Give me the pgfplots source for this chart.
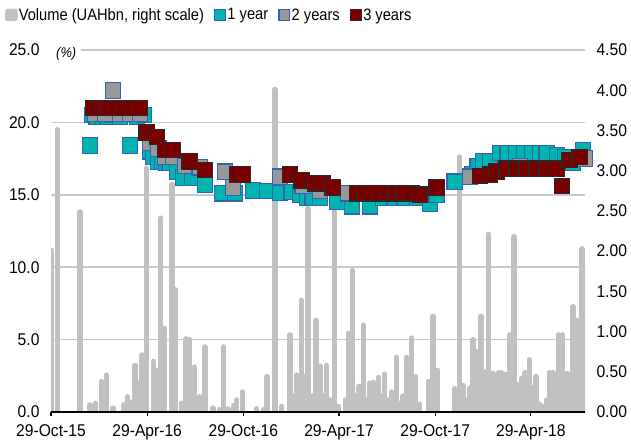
\documentclass[border=0pt]{standalone}
\usepackage{fontspec}
\setmainfont{Liberation Sans}[FakeStretch=0.92]
\newfontfamily\legfont{Liberation Sans}[FakeStretch=0.89]
\usepackage{pgfplots}
\usepackage{pgfplotstable}
\pgfplotsset{compat=1.18}
\definecolor{gridgray}{RGB}{200,202,202}
\definecolor{volgray}{RGB}{192,192,192}
\definecolor{tealf}{RGB}{0,180,176}
\definecolor{blueb}{RGB}{46,102,178}
\definecolor{grayf}{RGB}{152,152,152}
\definecolor{redf}{RGB}{122,0,0}
\definecolor{redb}{RGB}{48,38,38}

\pgfplotstableread{
day vol
1 2.01
12 3.51
55 2.49
74 0.09
84 0.11
96 0.38
105 0.46
118 0.05
139 0.09
146 0.19
152 0.12
160 0.58
164 0.36
173 0.71
182 3.03
195 0.63
201 0.52
209 2.41
216 1.04
230 2.83
237 1.52
249 0.11
257 0.91
264 0.90
273 0.56
283 0.19
293 0.81
308 0.05
320 0.03
328 0.81
337 0.04
347 0.08
353 0.15
364 0.25
391 0.04
404 0.03
411 0.44
426 4.01
439 0.07
455 0.96
462 0.20
467 0.46
476 1.39
483 0.44
489 2.53
497 0.20
504 1.14
512 0.57
518 0.20
524 0.58
531 0.15
539 2.55
547 0.07
560 0.15
566 0.98
573 1.76
580 0.20
586 0.32
594 1.08
600 0.15
607 0.36
613 0.37
618 0.15
623 0.43
629 0.20
635 0.47
642 0.15
648 0.25
657 0.68
664 0.11
670 0.20
676 0.68
681 0.30
686 0.92
694 0.44
701 0.10
718 0.38
727 1.19
735 0.52
768 0.29
777 3.17
784 0.33
790 0.15
797 0.30
803 0.90
809 0.75
813 0.35
818 1.19
824 0.50
832 2.21
836 0.30
841 0.48
846 0.30
851 0.49
857 0.49
864 0.47
868 0.30
873 0.96
881 2.18
886 0.35
890 0.30
895 0.42
902 0.49
906 0.30
910 0.65
916 0.30
923 0.44
929 0.10
936 0.07
943 0.15
948 0.49
955 0.49
960 0.40
965 0.96
973 0.96
978 0.30
982 0.48
987 0.40
993 1.31
997 0.50
1001 1.14
1005 0.60
1010 2.03
1015 1.75
}\volume

\pgfplotstableread{
day r
74 18.4
78 20.5
87 20.4
97 20.4
108 20.4
118 20.5
131 20.4
150 18.4
164 20.4
177 20.5
188 18.0
194 17.6
204 17.3
211 17.3
219 17.2
226 17.2
240 16.6
251 16.2
268 16.2
293 15.7
325 15.1
350 15.1
384 15.3
411 15.25
436 15.15
458 15.2
474 15.0
487 14.8
498 14.8
512 14.8
544 14.5
573 14.2
607 14.2
632 14.8
654 14.8
673 14.8
696 14.8
721 14.4
734 15.0
768 15.9
801 16.4
812 17.0
822 17.3
835 17.3
854 17.9
869 17.9
885 17.9
900 17.9
915 17.9
930 17.9
943 17.9
963 17.75
978 17.6
993 17.2
1012 18.1
}\oneyear

\pgfplotstableread{
day r
84 20.6
103 20.6
118 22.2
131 20.6
150 20.6
169 20.6
188 18.6
204 18.2
217 17.6
232 17.6
255 17.0
283 16.9
331 16.6
346 15.5
436 16.25
479 15.6
512 15.3
565 15.1
797 16.25
892 17.0
1015 17.5
}\twoyears

\pgfplotstableread{
day r
80 21.0
95 21.0
108 21.0
124 21.0
139 21.0
156 21.0
169 21.0
182 19.3
202 19.0
217 18.1
231 18.1
264 17.3
293 16.7
354 16.4
365 16.4
455 16.4
477 16.0
502 15.8
516 15.8
536 15.5
582 15.1
597 15.1
611 15.1
626 15.1
641 15.1
656 15.1
671 15.1
687 15.1
702 15.0
734 15.5
816 16.3
835 16.4
848 16.6
867 16.8
886 16.8
905 16.8
924 16.8
943 16.8
963 16.8
972 15.6
987 17.4
1006 17.6
}\threeyears

\pgfplotsset{
  base/.style={
    scale only axis, width=534bp, height=362bp,
    xmin=0, xmax=1016,
    every tick label/.append style={font=\fontsize{17bp}{20bp}\selectfont},
    /pgf/number format/assume math mode=true,
  },
}

\begin{document}
\begin{tikzpicture}
% gridlines and left labels
\begin{axis}[base,
  ymin=0, ymax=25, ytick={0,5,10,15,20,25},
  ymajorgrids, grid style={line width=1.5bp, gridgray},
  axis x line=none, axis y line*=left,
  y axis line style={draw=none}, ytick style={draw=none},
  yticklabel style={anchor=east, xshift=-8bp,
    /pgf/number format/.cd, fixed, fixed zerofill, precision=1},
]
\addplot[draw=none] coordinates {(0,0)};
\end{axis}
% volume bars, right scale
\begin{axis}[base,
  ymin=0, ymax=4.5, ytick={0,0.5,1,1.5,2,2.5,3,3.5,4,4.5},
  axis x line=none, axis y line*=right,
  y axis line style={draw=none}, ytick style={draw=none},
  yticklabel style={anchor=west, xshift=8bp,
    /pgf/number format/.cd, fixed, fixed zerofill, precision=2},
]
\addplot[ycomb, draw=volgray, line width=5.3bp, line cap=round, mark=none] table[x=day, y=vol] {\volume};
\end{axis}
% markers, x axis
\begin{axis}[base, name=ax,
  ymin=0, ymax=25, clip=false,
  axis y line=none, axis x line*=bottom,
  x axis line style={line width=1.5bp, black, -},
  xtick={0,183,366,548,731,913},
  xticklabels={29-Oct-15,29-Apr-16,29-Oct-16,29-Apr-17,29-Oct-17,29-Apr-18},
  tick align=outside, major tick length=4bp,
  xtick style={black, line width=1.2bp},
  xticklabel style={yshift=-5bp},
  legend style={at={(-0.0861,1.0967)}, anchor=west, draw=none, fill=none,
    legend columns=-1, inner sep=0pt,
    font=\legfont\fontsize{16.5bp}{19bp}\selectfont,
    nodes={inner xsep=1.2bp, inner ysep=1bp},
    /tikz/every even column/.append style={column sep=9bp}},
]
\addplot[only marks, mark=square*, mark size=7.7bp, forget plot,
  mark options={fill=tealf, draw=blueb, line width=1.2bp}] table[x=day, y=r] {\oneyear};
\addplot[only marks, mark=square*, mark size=7.7bp, forget plot,
  mark options={fill=grayf, draw=blueb, line width=1.2bp}] table[x=day, y=r] {\twoyears};
\addplot[only marks, mark=square*, mark size=7.7bp, forget plot,
  mark options={fill=redf, draw=redb, line width=1.2bp}] table[x=day, y=r] {\threeyears};
\node[fill=white, inner xsep=5bp, inner ysep=1bp, font=\itshape\fontsize{14bp}{16bp}\selectfont] at (axis cs:29,24.75) {(\%)};
\addlegendimage{legend image code/.code={\fill[volgray, rounded corners=1.8bp] (0bp,-6bp) rectangle (12bp,6bp);}}
\addlegendentry{Volume (UAHbn, right scale)}
\addlegendimage{legend image code/.code={\draw[fill=tealf, draw=blueb, line width=1.2bp] (0.6bp,-5.4bp) rectangle (11.4bp,5.4bp);}}
\addlegendentry{1 year}
\addlegendimage{legend image code/.code={\draw[fill=grayf, draw=blueb, line width=1.2bp] (0.6bp,-5.4bp) rectangle (11.4bp,5.4bp);}}
\addlegendentry{2 years}
\addlegendimage{legend image code/.code={\draw[fill=redf, draw=redb, line width=1.2bp] (0.6bp,-5.4bp) rectangle (11.4bp,5.4bp);}}
\addlegendentry{3 years}
\end{axis}
\pgfresetboundingbox
\path[use as bounding box] ([xshift=-51bp, yshift=-33bp]ax.south west) rectangle ([xshift=46bp, yshift=50bp]ax.north east);
\end{tikzpicture}
\end{document}
